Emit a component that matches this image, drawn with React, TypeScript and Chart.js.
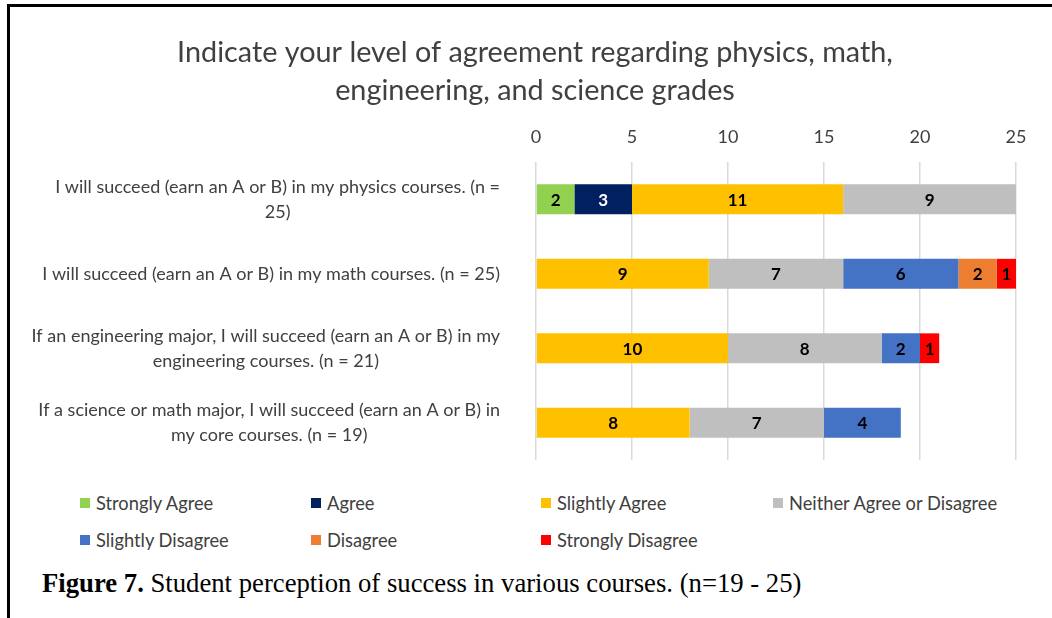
import React, { useEffect, useRef } from "react";
import { Chart, registerables } from "chart.js";

Chart.register(...registerables);

const categories: string[][] = [
  ["I will succeed (earn an A or B) in my physics courses. (n =", "25)"],
  ["I will succeed (earn an A or B) in my math courses. (n = 25)"],
  ["If an engineering major, I will succeed (earn an A or B) in my", "engineering courses. (n = 21)"],
  ["If a science or math major, I will succeed (earn an A or B) in", "my core courses. (n = 19)"],
];

const seriesNames = [
  "Strongly Agree",
  "Agree",
  "Slightly Agree",
  "Neither Agree or Disagree",
  "Slightly Disagree",
  "Disagree",
  "Strongly Disagree",
];

const stronglyAgree = [2, 0, 0, 0];
const agree = [3, 0, 0, 0];
const slightlyAgree = [11, 9, 10, 8];
const neither = [9, 7, 8, 7];
const slightlyDisagree = [0, 6, 2, 4];
const disagree = [0, 2, 0, 0];
const stronglyDisagree = [0, 1, 1, 0];

const seriesValues = [
  stronglyAgree,
  agree,
  slightlyAgree,
  neither,
  slightlyDisagree,
  disagree,
  stronglyDisagree,
];

const seriesColors = ["#92D050", "#002060", "#FFC000", "#BFBFBF", "#4472C4", "#ED7D31", "#FF0000"];
const labelColors = ["#000000", "#FFFFFF", "#000000", "#000000", "#000000", "#000000", "#000000"];

const titleLines = [
  "Indicate your level of agreement regarding physics, math,",
  "engineering, and science grades",
];
const xTicks = [0, 5, 10, 15, 20, 25];

const FONT = "Lato, 'Open Sans', sans-serif";
const TEXT = "#404040";

const dataLabelPlugin = {
  id: "barValueLabels",
  afterDatasetsDraw(chart: any) {
    const ctx = chart.ctx;
    ctx.save();
    ctx.font = `bold 17px ${FONT}`;
    ctx.textAlign = "center";
    ctx.textBaseline = "middle";
    chart.data.datasets.forEach((ds: any, di: number) => {
      const meta = chart.getDatasetMeta(di);
      meta.data.forEach((el: any, i: number) => {
        const v = ds.data[i];
        if (!v) return;
        ctx.fillStyle = labelColors[di];
        ctx.fillText(String(v), (el.x + el.base) / 2, el.y + 1);
      });
    });
    ctx.restore();
  },
};

// Category labels: each label block right-aligned next to the axis, lines centred within the block
const categoryLabelPlugin = {
  id: "categoryLabels",
  afterDraw(chart: any) {
    const ctx = chart.ctx;
    const yScale = chart.scales.y;
    const right = chart.chartArea.left - 36;
    ctx.save();
    ctx.font = `18px ${FONT}`;
    ctx.fillStyle = TEXT;
    ctx.textAlign = "center";
    ctx.textBaseline = "middle";
    const lineH = 25;
    categories.forEach((lines, i) => {
      const w = Math.max(...lines.map((l) => ctx.measureText(l).width));
      const cx = right - w / 2;
      const cy = yScale.getPixelForTick(i);
      lines.forEach((l, li) => {
        ctx.fillText(l, cx, cy + (li - (lines.length - 1) / 2) * lineH);
      });
    });
    ctx.restore();
  },
};

export default function App() {
  const canvasRef = useRef<HTMLCanvasElement | null>(null);

  useEffect(() => {
    if (!canvasRef.current) return;
    const chart = new Chart(canvasRef.current, {
      type: "bar",
      data: {
        labels: categories,
        datasets: seriesNames.map((name, i) => ({
          label: name,
          data: seriesValues[i],
          backgroundColor: seriesColors[i],
          borderWidth: 0,
          categoryPercentage: 0.4,
          barPercentage: 1,
        })),
      },
      options: {
        indexAxis: "y",
        animation: false,
        responsive: true,
        maintainAspectRatio: false,
        layout: { padding: { left: 44, right: 36, top: 0, bottom: 0 } },
        plugins: {
          legend: { display: false },
          tooltip: { enabled: false },
          title: {
            display: true,
            text: titleLines,
            color: TEXT,
            font: { family: FONT, size: 28.8, weight: "normal", lineHeight: "38px" },
            padding: { top: 27, bottom: 0 },
          },
        },
        scales: {
          x: {
            position: "top",
            stacked: true,
            min: 0,
            max: 25,
            afterFit: (s: any) => {
              s.height = 52;
            },
            afterBuildTicks: (s: any) => {
              s.ticks = xTicks.map((v) => ({ value: v }));
            },
            ticks: {
              color: TEXT,
              font: { family: FONT, size: 18 },
              padding: 14,
            },
            grid: { color: "#D9D9D9", lineWidth: 1.5, drawTicks: false },
            border: { display: false },
          },
          y: {
            stacked: true,
            afterFit: (s: any) => {
              s.width = 482;
              s.paddingTop = 0;
              s.paddingBottom = 0;
            },
            ticks: { display: false },
            grid: { display: false },
            border: { display: false },
          },
        },
      },
      plugins: [dataLabelPlugin, categoryLabelPlugin],
    } as any);
    return () => chart.destroy();
  }, []);

  const legendCols = [80, 311, 541, 773];
  const legendRows = [503, 540];

  return (
    <div style={{ position: "fixed", left: 0, top: 0, width: 1052, height: 618, background: "#fff", overflow: "hidden" }}>
      <div
        style={{
          position: "absolute",
          left: 7,
          top: 4,
          width: 1100,
          height: 700,
          borderTop: "3px solid #000",
          borderLeft: "3px solid #000",
        }}
      />
      <div style={{ position: "absolute", left: 10, top: 7, width: 1042, height: 453 }}>
        <canvas ref={canvasRef} />
      </div>
      {seriesNames.map((name, i) => {
        const col = i % 4;
        const row = Math.floor(i / 4);
        return (
          <div
            key={name}
            style={{
              position: "absolute",
              left: legendCols[col],
              top: legendRows[row] - 12,
              height: 24,
              display: "flex",
              alignItems: "center",
              fontFamily: FONT,
              fontSize: 18.3,
              color: TEXT,
              whiteSpace: "nowrap",
            }}
          >
            <span style={{ display: "inline-block", width: 10, height: 10, background: seriesColors[i], marginRight: 6 }} />
            {name}
          </div>
        );
      })}
      <div
        style={{
          position: "absolute",
          left: 42,
          top: 568,
          fontFamily: "'Liberation Serif', 'Times New Roman', serif",
          fontSize: 26.7,
          lineHeight: "30px",
          color: "#000",
          whiteSpace: "nowrap",
        }}
      >
        <b>Figure 7.</b> Student perception of success in various courses. (n=19 - 25)
      </div>
    </div>
  );
}
